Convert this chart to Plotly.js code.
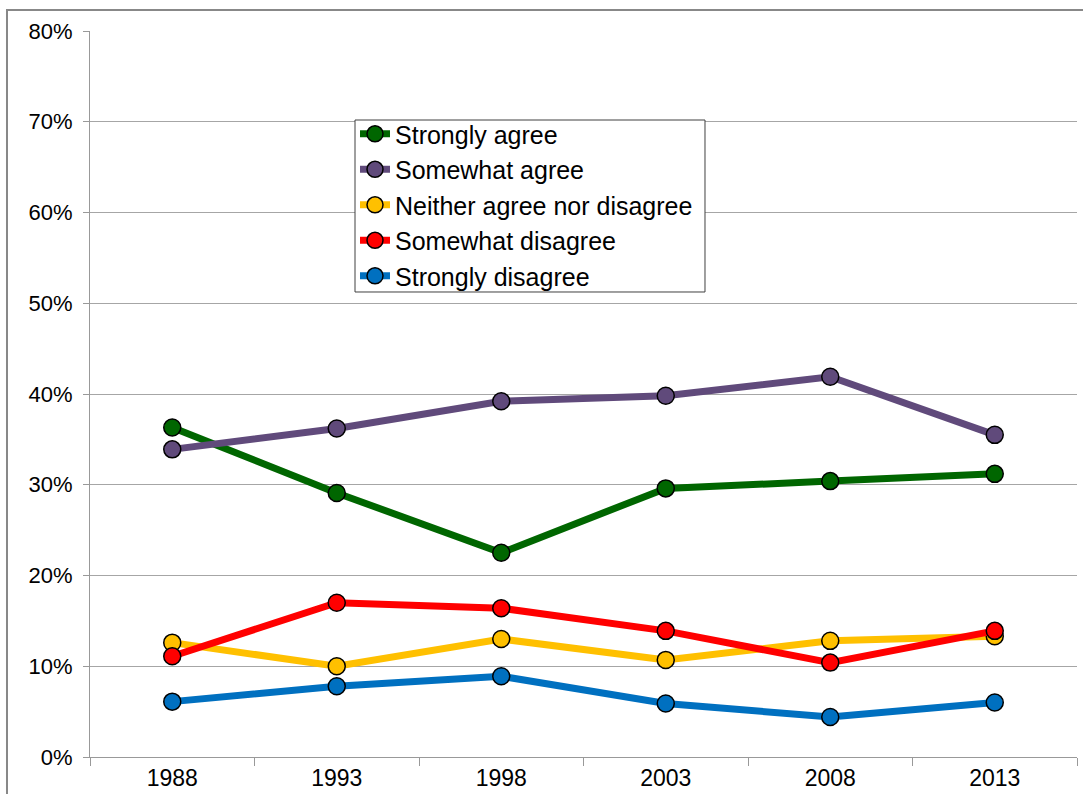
<!DOCTYPE html>
<html>
<head>
<meta charset="utf-8">
<script src="https://cdn.plot.ly/plotly-3.0.1.min.js"></script>
<style>
html,body{margin:0;padding:0;background:#fff;}
#chart{width:1083px;height:794px;}
</style>
</head>
<body>
<div id="chart"></div>
<script>
const years = ['1988', '1993', '1998', '2003', '2008', '2013'];
const stronglyAgree = [0.363, 0.291, 0.225, 0.296, 0.304, 0.312];
const somewhatAgree = [0.339, 0.362, 0.392, 0.398, 0.419, 0.355];
const neither = [0.126, 0.100, 0.130, 0.107, 0.128, 0.133];
const somewhatDisagree = [0.111, 0.170, 0.164, 0.139, 0.104, 0.139];
const stronglyDisagree = [0.061, 0.078, 0.089, 0.059, 0.044, 0.060];

const seriesNames = ['Strongly agree', 'Somewhat agree', 'Neither agree nor disagree', 'Somewhat disagree', 'Strongly disagree'];
const seriesValues = [stronglyAgree, somewhatAgree, neither, somewhatDisagree, stronglyDisagree];
const seriesColors = ['#006600', '#604A7B', '#FFC000', '#FF0000', '#0070C0'];

const traces = seriesNames.map((name, i) => ({
  type: 'scatter',
  mode: 'lines+markers',
  name: name,
  x: years,
  y: seriesValues[i],
  line: {color: seriesColors[i], width: 7},
  marker: {color: seriesColors[i], size: 17, line: {color: '#000000', width: 1.5}},
  cliponaxis: false
}));

const fam = '"Liberation Sans", Arial, sans-serif';
const yFont = {family: fam, size: 22, color: '#000000'};
const xFont = {family: fam, size: 23, color: '#000000'};
const legFont = {family: fam, size: 25, color: '#000000'};

const layout = {
  width: 1083,
  height: 794,
  margin: {l: 90, r: 6, t: 31, b: 37},
  paper_bgcolor: '#ffffff',
  plot_bgcolor: '#ffffff',
  font: yFont,
  showlegend: true,
  legend: {
    x: 0.2685, y: 0.8898, xanchor: 'left', yanchor: 'top',
    bgcolor: 'rgba(0,0,0,0)', borderwidth: 0,
    font: legFont, tracegroupgap: 0
  },
  xaxis: {
    type: 'category',
    tickson: 'boundaries',
    ticks: 'outside', ticklen: 8, tickcolor: '#999999', tickwidth: 1,
    showgrid: false,
    showline: true, linecolor: '#999999', linewidth: 1,
    tickfont: xFont,
    ticklabelstandoff: 0,
    range: [-0.5, 5.5],
    fixedrange: true
  },
  yaxis: {
    range: [0, 0.8],
    dtick: 0.1,
    tickformat: '.0%',
    ticks: 'outside', ticklen: 6, tickcolor: '#999999', tickwidth: 1,
    showgrid: true, gridcolor: '#A6A6A6', gridwidth: 1,
    showline: true, linecolor: '#999999', linewidth: 1,
    zeroline: false,
    tickfont: yFont,
    ticklabelstandoff: 6,
    fixedrange: true
  },
  shapes: [{
    type: 'rect', xref: 'paper', yref: 'paper',
    x0: -0.0841, x1: 1.2, y0: -0.3, y1: 1.0289,
    line: {color: '#888888', width: 2}, fillcolor: 'rgba(0,0,0,0)', layer: 'below'
  }, {
    type: 'rect', xref: 'paper', yref: 'paper',
    x0: 0.2685, x1: 0.6231, y0: 0.6405, y1: 0.8774,
    line: {color: '#404040', width: 1}, fillcolor: '#ffffff', layer: 'above'
  }]
};

Plotly.newPlot('chart', traces, layout, {displayModeBar: false, staticPlot: true});
</script>
</body>
</html>
